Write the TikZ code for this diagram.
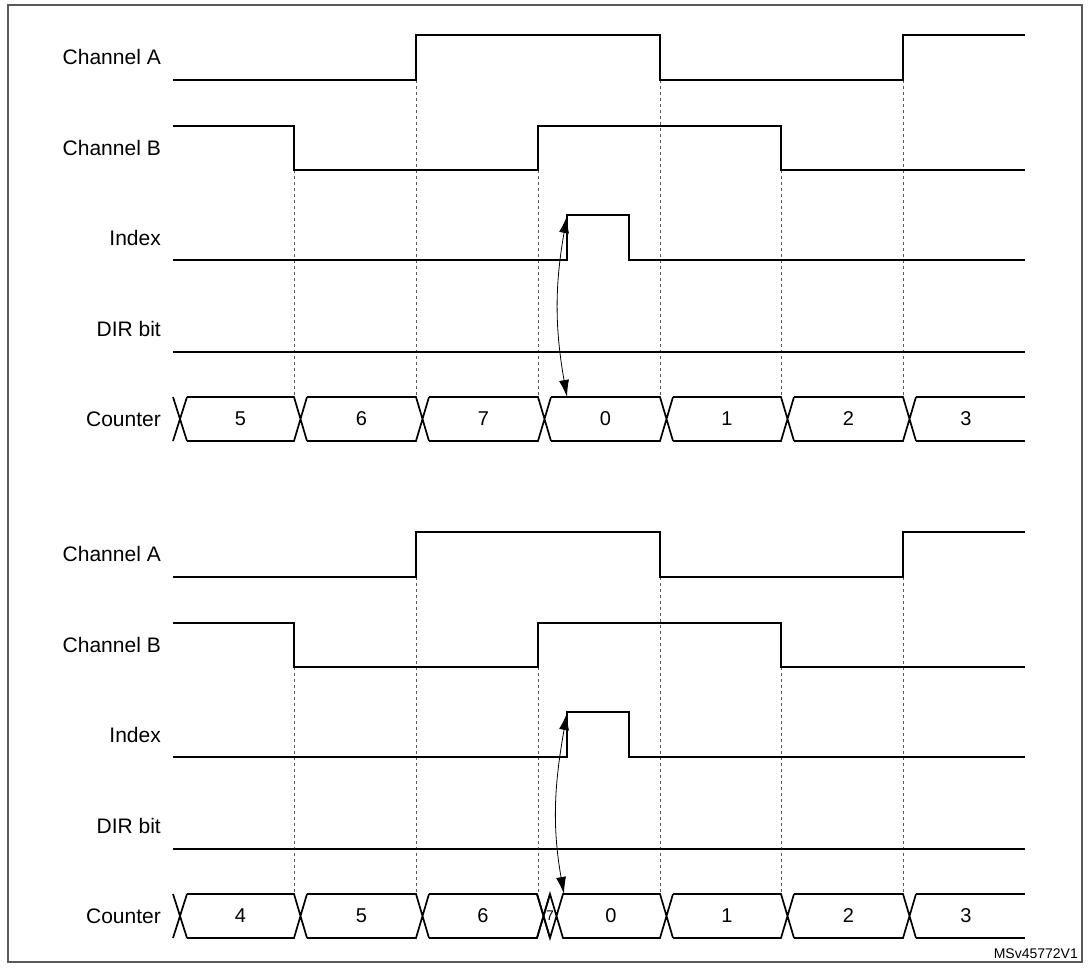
\documentclass[tikz,border=0pt]{standalone}
\usepackage{fontspec}
\setmainfont{Liberation Sans}
\usetikzlibrary{positioning, arrows.meta}

\tikzset{
    sig/.style={line width=1.7pt},
    guide/.style={dashed, gray!70!black, line width=0.8pt},
    lbl/.style={anchor=east, inner sep=0pt, font=\fontsize{21}{24}\selectfont},
    val/.style={font=\fontsize{20}{24}\selectfont},
    twoway/.style={{Latex[length=17pt,width=10pt]}-{Latex[length=17pt,width=10pt]}, line width=0.8pt},
}

\begin{document}
\begin{tikzpicture}[x=1pt, y=-1pt]
    \useasboundingbox (0,0) rectangle (1090,968);
    \draw[gray!70!black, line width=1.5pt] (8,5) rectangle (1082,962);

    \foreach \dy/\panel in {0/t, 497/b} {
        \begin{scope}[yshift=-\dy pt]
            % labels
            \node[lbl] (chA\panel) at (161,57) {Channel A};
            \node[lbl] (chB\panel) at (161,148) {Channel B};
            \node[lbl] (idx\panel) at (161,238) {Index};
            \node[lbl] (dir\panel) at (161,329) {DIR bit};
            \node[lbl] (cnt\panel) at (161,419) {Counter};
            % guides
            \foreach \x in {416, 660, 903} \draw[guide] (\x,80) -- (\x,397);
            \foreach \x in {294, 538, 781} \draw[guide] (\x,170) -- (\x,397);
            % signals
            \draw[sig] (173,80) -- (416,80) -- (416,35) -- (660,35) -- (660,80)
                -- (903,80) -- (903,35) -- (1025,35);
            \draw[sig] (173,126) -- (294,126) -- (294,170) -- (538,170) -- (538,126)
                -- (781,126) -- (781,170) -- (1025,170);
            \draw[sig] (173,260) -- (567,260) -- (567,215) -- (629,215) -- (629,260)
                -- (1025,260);
            \draw[sig] (173,352) -- (1025,352);
            \coordinate (edge\panel) at (567,216);
        \end{scope}
    }

    % counter, upper panel
    \foreach \a/\b/\v in {187/294/5, 307/416/6, 429/538/7, 551/660/0, 673/781/1, 794/903/2} {
        \draw[sig] (\a,397) -- (\b,397) -- (\b+13,441) (\a,441) -- (\b,441) -- (\b+13,397);
        \node[val] at ({(\a+\b)/2},419) {\v};
    }
    \draw[sig] (173,397) -- (187,441) (173,441) -- (187,397);
    \draw[sig] (916,397) -- (1025,397) (916,441) -- (1025,441);
    \node[val] at (966,419) {3};
    \coordinate (cnt0t) at (567,397);
    \draw[twoway] (edget) to[out=-100, in=100] (cnt0t);

    % counter, lower panel
    \foreach \a/\b/\v in {187/294/4, 307/416/5, 429/537/6, 673/781/1, 794/903/2} {
        \draw[sig] (\a,894) -- (\b,894) -- (\b+13,938) (\a,938) -- (\b,938) -- (\b+13,894);
        \node[val] at ({(\a+\b)/2},916) {\v};
    }
    \draw[sig] (173,894) -- (187,938) (173,938) -- (187,894);
    \draw[sig] (537,894) -- (550,938) -- (563,894) -- (660,894) -- (673,938)
        (537,938) -- (550,894) -- (563,938) -- (660,938) -- (673,894);
    \node[font=\fontsize{14}{16}\selectfont, inner sep=0pt] at (550,916) {7};
    \node[val] at (611,916) {0};
    \draw[sig] (916,894) -- (1025,894) (916,938) -- (1025,938);
    \node[val] at (966,916) {3};
    \coordinate (cnt0b) at (564,894);
    \draw[twoway] (edgeb) to[out=-100, in=100] (cnt0b);

    \node[anchor=south east, font=\fontsize{14}{16}\selectfont, inner sep=1pt] (tag) at (1079,960) {MSv45772V1};
\end{tikzpicture}
\end{document}
